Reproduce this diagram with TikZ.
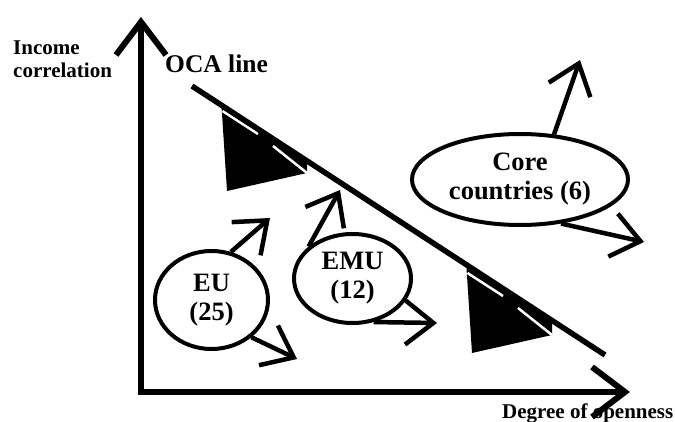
\documentclass[tikz,border=0pt]{standalone}
\usepackage{fontspec}
\setmainfont{Liberation Serif}
\usetikzlibrary{%
  shapes.geometric,%
  arrows.meta%
}

\begin{document}
\begin{tikzpicture}[
      x=1pt, y=-1pt,
      axislabel/.style={
        inner sep=0pt,
        font=\fontsize{21}{23}\selectfont\bfseries
      },
      country/.style={
        ellipse,
        draw,
        line width=4pt,
        inner sep=0pt,
        align=center,
        font=\fontsize{26.5}{29}\selectfont\bfseries
      },
      moves/.style={
        line width=4.5pt,
        -{Straight Barb[length=28pt,width=44pt,sharp]}
      },
      axisline/.style={
        line width=6pt,
        line join=miter,
        {Straight Barb[length=33pt,width=50pt,sharp]}-{Straight Barb[length=33pt,width=50pt,sharp]}
      },
      notch/.style={
        draw=white,
        line width=2.5pt
      }
    ]
    \useasboundingbox (0,0) rectangle (675,422);

    % the two black wedges under the OCA line
    \foreach \dx/\dy in {0/0, 245/162}
    {
      \begin{scope}[shift={(\dx,\dy)}]
        \fill (221.5,106) -- (227,191) -- (307,173) -- (307,160) -- cycle;
        \draw[notch] (222.5,111) -- (258,134)
                     (273,146) -- (307,173);
      \end{scope}
    }

    \coordinate (OCAStart) at (192,86);
    \coordinate (OCAEnd) at (605,355);
    \draw[line width=5.5pt] (OCAStart) -- (OCAEnd);

    \node[axislabel, align=left, anchor=base west]
      (Income) at (13,78)
      {Income\\correlation};

    \node[axislabel, font=\fontsize{25.5}{28}\selectfont\bfseries, anchor=base west]
      (OCA) at (165,73)
      {OCA line};

    \node[axislabel, anchor=base west]
      (Openness) at (502,418)
      {Degree of openness};

    \coordinate (Origin) at (141,392);
    \coordinate (YTip) at (141,17);
    \coordinate (XTip) at (630,392);
    \draw[axisline] (YTip) -- (Origin) -- (XTip);

    \node[country, minimum width=216pt, minimum height=91pt]
      (Core) at (520,179.5)
      {Core\\countries (6)};

    \node[country, minimum width=113pt, minimum height=98pt]
      (EU) at (211.5,300)
      {EU\\(25)};

    \node[country, minimum width=117pt, minimum height=89pt]
      (EMU) at (352.5,278.5)
      {EMU\\(12)};

    \coordinate (CoreUp) at (580,60);
    \coordinate (CoreRight) at (644,242);
    \coordinate (EUUp) at (270,218);
    \coordinate (EURight) at (297,359);
    \coordinate (EMUUp) at (340,190);
    \coordinate (EMURight) at (437,323);

    \draw[moves] (Core.53) -- (CoreUp);
    \draw[moves] (Core.-47) -- (CoreRight);
    \draw[moves] (EU.68) -- (EUUp);
    \draw[moves] (EU.-43) -- (EURight);
    \draw[moves] (EMU.144) -- (EMUUp);
    \draw[moves] (EMU.-64) -- (EMURight);
  \end{tikzpicture}
\end{document}
